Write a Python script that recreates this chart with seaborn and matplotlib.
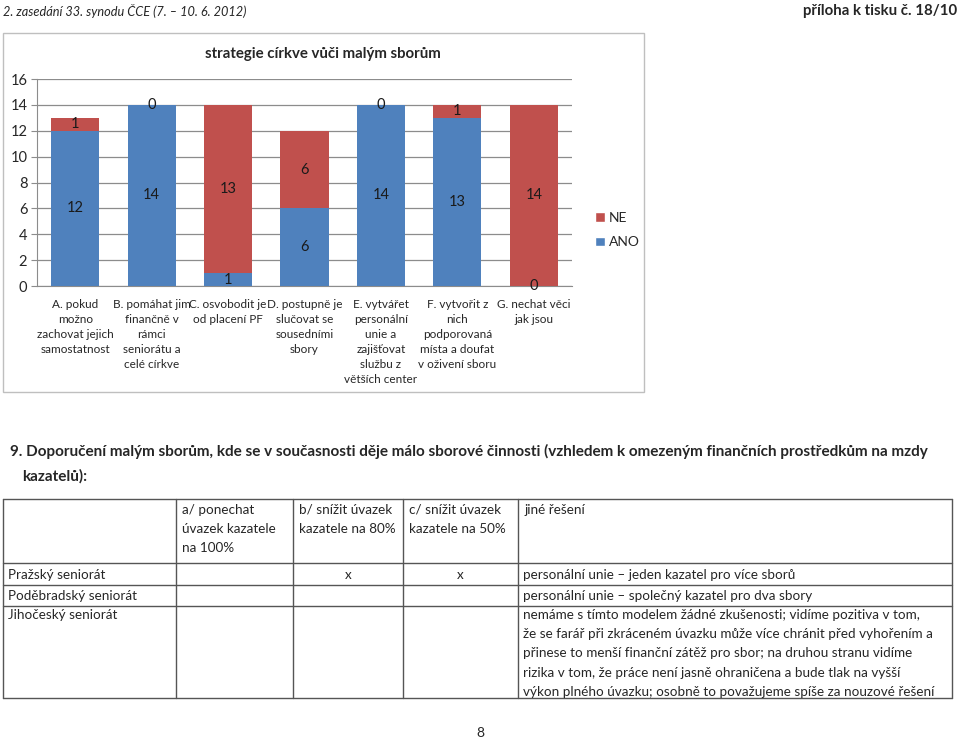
import matplotlib
matplotlib.use("Agg")
import matplotlib.pyplot as plt
from matplotlib.patches import Patch, Rectangle
import seaborn as sns
import pandas as pd

# Data for the chart
CATEGORIES = [
    "A. pokud\nmožno\nzachovat jejich\nsamostatnost",
    "B. pomáhat jim\nfinančně v\nrámci\nseniorátu a\ncelé církve",
    "C. osvobodit je\nod placení PF",
    "D. postupně je\nslučovat se\nsousedními\nsbory",
    "E. vytvářet\npersonální\nunie a\nzajišťovat\nslužbu z\nvětších center",
    "F. vytvořit z\nnich\npodporovaná\nmísta a doufat\nv oživení sboru",
    "G. nechat věci\njak jsou",
]
ANO = [12, 14, 1, 6, 14, 13, 0]
NE = [1, 0, 13, 6, 0, 1, 14]
Y_TICKS = [0, 2, 4, 6, 8, 10, 12, 14, 16]
CHART_TITLE = "strategie církve vůči malým sborům"

# Page text
HEADER_LEFT = "2. zasedání 33. synodu ČCE (7. – 10. 6. 2012)"
HEADER_RIGHT = "příloha k tisku č. 18/10"
QUESTION = ["9. Doporučení malým sborům, kde se v současnosti děje málo sborové činnosti "
            "(vzhledem k omezeným finančních prostředkům na mzdy",
            "kazatelů):"]

# Table content
TABLE_HEAD = [
    [],
    ["a/ ponechat", "úvazek kazatele", "na 100%"],
    ["b/ snížit úvazek", "kazatele na 80%"],
    ["c/ snížit úvazek", "kazatele na 50%"],
    ["jiné řešení"],
]
SENIORATY = ["Pražský seniorát", "Poděbradský seniorát", "Jihočeský seniorát"]
COL_A = ["", "", ""]
COL_B = ["x", "", ""]
COL_C = ["x", "", ""]
JINE = [
    ["personální unie – jeden kazatel pro více sborů"],
    ["personální unie – společný kazatel pro dva sbory"],
    ["nemáme s tímto modelem žádné zkušenosti; vidíme pozitiva v tom,",
     "že se farář při zkráceném úvazku může více chránit před vyhořením a",
     "přinese to menší finanční zátěž pro sbor; na druhou stranu vidíme",
     "rizika v tom, že práce není jasně ohraničena a bude tlak na vyšší",
     "výkon plného úvazku; osobně to považujeme spíše za nouzové řešení"],
]

BLUE = "#4F81BD"
RED = "#C0504D"
FONT = ["Lato", "DejaVu Sans"]

sns.set_style("white")
plt.rcParams["font.family"] = FONT

fig = plt.figure(figsize=(9.6, 7.4), dpi=100)

# Page layer in pixel coordinates
page = fig.add_axes([0, 0, 1, 1])
page.set_xlim(0, 960)
page.set_ylim(740, 0)
page.axis("off")

page.text(3, 11, HEADER_LEFT, fontsize=9.2, style="italic", va="center", ha="left")
page.text(957, 11, HEADER_RIGHT, fontsize=10.8, fontweight="bold", va="center", ha="right")

# chart frame
page.add_patch(Rectangle((3, 33), 641, 359, fill=False, edgecolor="#BFBFBF", lw=1))
page.text(323, 54, CHART_TITLE, fontsize=10.8, fontweight="bold", ha="center", va="center")

# question
page.text(10, 451, QUESTION[0], fontsize=11, fontweight="bold", va="center", ha="left")
page.text(22, 476, QUESTION[1], fontsize=11, fontweight="bold", va="center", ha="left")

# table grid
col_x = [3, 176, 293, 403, 518, 952]
row_y = [499, 563, 585, 606, 698]
line_kw = dict(color="#555555", lw=1)
for y in row_y:
    page.plot([col_x[0], col_x[-1]], [y, y], **line_kw)
for x in col_x:
    page.plot([x, x], [row_y[0], row_y[-1]], **line_kw)

tfs = 9.7
step = 19.2
for c, lines in enumerate(TABLE_HEAD):
    for k, line in enumerate(lines):
        page.text(col_x[c] + 6, 510 + k * step, line, fontsize=tfs, va="center", ha="left")

row_text_y = [575, 596, 615]
for r, name in enumerate(SENIORATY):
    y0 = row_text_y[r]
    page.text(col_x[0] + 5, y0, name, fontsize=tfs, va="center", ha="left")
    for c, col in enumerate([COL_A, COL_B, COL_C], start=1):
        page.text((col_x[c] + col_x[c + 1]) / 2, y0, col[r], fontsize=tfs,
                  va="center", ha="center")
    for k, line in enumerate(JINE[r]):
        page.text(col_x[4] + 5, y0 + k * step, line, fontsize=tfs, va="center", ha="left")

page.text(480, 733, "8", fontsize=10, ha="center", va="center")

# Chart
ax = fig.add_axes([37 / 960, 1 - 286 / 740, 535 / 960, 207 / 740])
df = pd.DataFrame({"kategorie": CATEGORIES, "ANO": ANO, "NE": NE})
df["celkem"] = df["ANO"] + df["NE"]

sns.barplot(data=df, x="kategorie", y="celkem", color=RED, saturation=1,
            width=0.63, ax=ax, zorder=3, linewidth=0)
sns.barplot(data=df, x="kategorie", y="ANO", color=BLUE, saturation=1,
            width=0.63, ax=ax, zorder=3, linewidth=0)

for i, (a, n) in enumerate(zip(ANO, NE)):
    ax.text(i, a / 2, str(a), ha="center", va="center", fontsize=10.5, color="#1a1a1a", zorder=5)
    ax.text(i, a + n / 2, str(n), ha="center", va="center", fontsize=10.5, color="#1a1a1a", zorder=5)

ax.set_xlim(-0.5, len(CATEGORIES) - 0.5)
ax.set_ylim(0, 16)
ax.set_yticks(Y_TICKS)
ax.set_xlabel("")
ax.set_ylabel("")
ax.yaxis.grid(True, color="#8C8C8C", lw=0.9, zorder=0)
ax.set_axisbelow(True)
for s in ["top", "right"]:
    ax.spines[s].set_visible(False)
ax.spines["left"].set_color("#8C8C8C")
ax.spines["bottom"].set_color("#8C8C8C")
ax.tick_params(axis="y", labelsize=10.5, length=4, color="#8C8C8C", pad=3, left=True)
ax.tick_params(axis="x", labelsize=8.5, length=0, pad=9)
for lbl in ax.get_xticklabels():
    lbl.set_linespacing(1.45)
ax.patch.set_alpha(0)

handles = [Patch(facecolor=RED, label="NE"), Patch(facecolor=BLUE, label="ANO")]
ax.legend(handles=handles, loc="center left", bbox_to_anchor=(1.02, 0.27),
          frameon=False, fontsize=10, handlelength=0.7, handleheight=0.7,
          handletextpad=0.3, labelspacing=0.9)

fig.savefig("out.png", dpi=100)
